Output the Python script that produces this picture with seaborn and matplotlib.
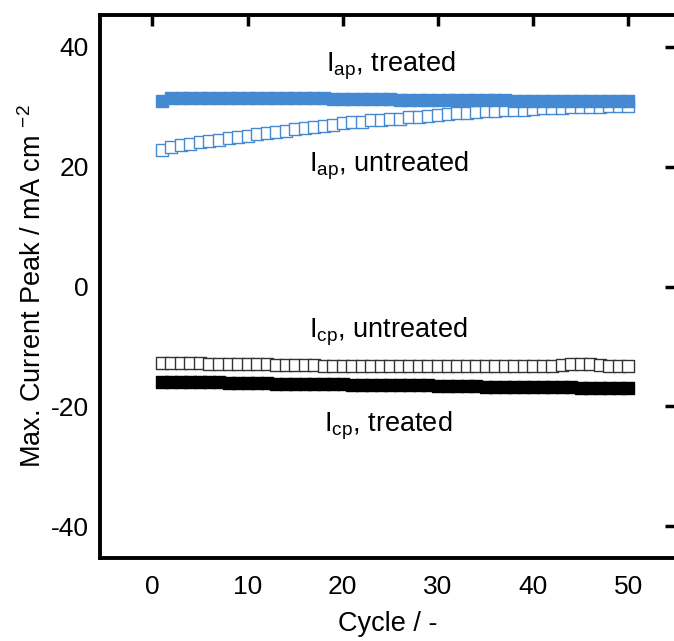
import numpy as np
import pandas as pd
import matplotlib
matplotlib.use("Agg")
import matplotlib.pyplot as plt
import seaborn as sns

cycles = list(range(1, 51))
iap_treated = [31.0, 31.5, 31.5, 31.5, 31.5, 31.5, 31.5, 31.5, 31.4, 31.4,
               31.4, 31.4, 31.4, 31.4, 31.4, 31.4, 31.4, 31.4, 31.3, 31.3,
               31.3, 31.3, 31.3, 31.3, 31.3, 31.2, 31.2, 31.2, 31.2, 31.2,
               31.2, 31.1, 31.1, 31.1, 31.1, 31.1, 31.1, 31.0, 31.0, 31.0,
               31.0, 31.0, 31.0, 31.0, 30.9, 30.9, 30.9, 30.9, 30.9, 30.9]
iap_untreated = [22.8, 23.2, 23.6, 23.8, 24.1, 24.3, 24.5, 24.7, 24.9, 25.1,
                 25.4, 25.6, 25.8, 26.0, 26.2, 26.4, 26.6, 26.8, 27.0, 27.2,
                 27.4, 27.5, 27.7, 27.8, 27.9, 28.0, 28.2, 28.3, 28.5, 28.6,
                 28.7, 28.9, 29.0, 29.1, 29.2, 29.3, 29.4, 29.5, 29.5, 29.6,
                 29.7, 29.7, 29.8, 29.9, 29.9, 30.0, 30.0, 30.1, 30.2, 30.2]
icp_untreated = [-12.7, -12.7, -12.8, -12.8, -12.8, -12.9, -12.9, -12.9, -13.0, -13.0,
                 -13.0, -13.0, -13.1, -13.1, -13.1, -13.1, -13.1, -13.2, -13.2, -13.2,
                 -13.2, -13.2, -13.2, -13.2, -13.2, -13.2, -13.2, -13.2, -13.2, -13.2,
                 -13.2, -13.2, -13.2, -13.2, -13.2, -13.2, -13.2, -13.2, -13.2, -13.2,
                 -13.2, -13.2, -13.1, -13.0, -12.9, -13.0, -13.1, -13.2, -13.3, -13.3]
icp_treated = [-15.9, -15.9, -15.9, -16.0, -16.0, -16.0, -16.0, -16.1, -16.1, -16.1,
               -16.1, -16.1, -16.2, -16.2, -16.2, -16.2, -16.2, -16.3, -16.3, -16.3,
               -16.4, -16.4, -16.4, -16.4, -16.5, -16.5, -16.5, -16.5, -16.5, -16.6,
               -16.6, -16.6, -16.6, -16.6, -16.7, -16.7, -16.7, -16.7, -16.7, -16.8,
               -16.8, -16.8, -16.8, -16.8, -16.9, -16.9, -16.9, -16.9, -17.0, -17.0]

annotations = [
    (r"I$_{\mathrm{ap}}$, treated", 25.0, 35.8),
    (r"I$_{\mathrm{ap}}$, untreated", 24.8, 19.2),
    (r"I$_{\mathrm{cp}}$, untreated", 24.8, -8.5),
    (r"I$_{\mathrm{cp}}$, treated", 24.8, -24.2),
]
xticks = [0, 10, 20, 30, 40, 50]
yticks = [-40, -20, 0, 20, 40]

sns.set_style("white")
plt.rcParams["font.family"] = ["Liberation Sans", "DejaVu Sans"]
plt.rcParams["mathtext.fontset"] = "custom"
plt.rcParams["mathtext.rm"] = "Liberation Sans"
plt.rcParams["mathtext.it"] = "Liberation Sans:italic"
plt.rcParams["mathtext.bf"] = "Liberation Sans:bold"
plt.rcParams["axes.unicode_minus"] = False
for k in ["text.color", "axes.labelcolor", "xtick.color", "ytick.color",
          "xtick.labelcolor", "ytick.labelcolor"]:
    plt.rcParams[k] = "black"

blue = "#4589D2"
fig = plt.figure(figsize=(6.74, 6.41), dpi=100)
ax = fig.add_axes([100 / 674, 83 / 641, 576 / 674, 543 / 641])

df = pd.DataFrame({"cycle": cycles, "iap_t": iap_treated, "iap_u": iap_untreated,
                   "icp_t": icp_treated, "icp_u": icp_untreated})

ms = 64
sns.scatterplot(data=df, x="cycle", y="iap_u", marker="s", s=ms, facecolor="white",
                edgecolor=blue, linewidth=1.0, ax=ax, zorder=2)
sns.scatterplot(data=df, x="cycle", y="iap_t", marker="s", s=ms, color=blue,
                edgecolor=blue, linewidth=1.0, ax=ax, zorder=3)
sns.scatterplot(data=df, x="cycle", y="icp_u", marker="s", s=ms, facecolor="white",
                edgecolor="#333333", linewidth=1.0, ax=ax, zorder=2)
sns.scatterplot(data=df, x="cycle", y="icp_t", marker="s", s=ms, color="black",
                edgecolor="black", linewidth=1.0, ax=ax, zorder=3)

for txt, x, y in annotations:
    ax.text(x, y, txt, ha="center", va="baseline", fontsize=19.5, color="black")

ax.set_xlim(-5.5, 55.0)
ax.set_ylim(-45.3, 45.3)
ax.set_xticks(xticks)
ax.set_yticks(yticks)
ax.set_xticklabels([str(v) for v in xticks])
ax.set_yticklabels([str(v) for v in yticks])
ax.tick_params(axis="both", which="both", direction="in", length=8, width=2.5,
               labelsize=19, top=True, right=True, color="black",
               labelcolor="black")
ax.tick_params(axis="x", pad=12)
ax.tick_params(axis="y", pad=8)
ax.set_xlabel("Cycle / -", fontsize=19.5, labelpad=9)
ax.set_ylabel(r"Max. Current Peak / mA cm $^{\mathrm{-2}}$", fontsize=19.5, labelpad=3)
for sp in ax.spines.values():
    sp.set_linewidth(2.8)
    sp.set_color("black")
    sp.set_visible(True)

fig.savefig("out.png", dpi=100)
